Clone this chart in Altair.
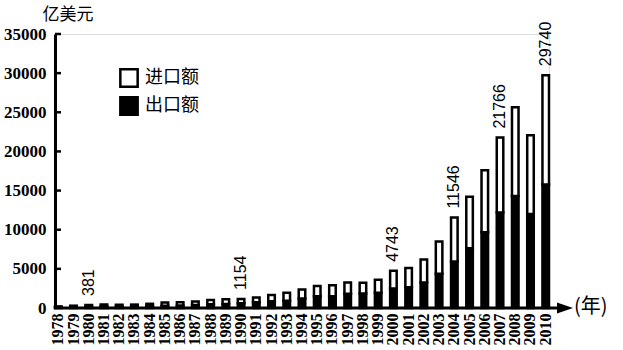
import altair as alt
import pandas as pd

years = ["1978", "1979", "1980", "1981", "1982", "1983", "1984", "1985", "1986", "1987",
         "1988", "1989", "1990", "1991", "1992", "1993", "1994", "1995", "1996", "1997",
         "1998", "1999", "2000", "2001", "2002", "2003", "2004", "2005", "2006", "2007",
         "2008", "2009", "2010"]
exports = [97.5, 136.6, 181.2, 220.1, 223.2, 222.3, 261.4, 273.5, 309.4, 394.4,
           475.2, 525.4, 620.9, 719.1, 849.4, 917.4, 1210.1, 1487.8, 1510.5, 1827.9,
           1837.1, 1949.3, 2492.0, 2661.0, 3256.0, 4382.3, 5933.3, 7619.5, 9689.4, 12204.6,
           14306.9, 12016.1, 15777.5]
imports = [108.9, 156.7, 200.2, 220.2, 192.9, 213.9, 274.1, 422.5, 429.1, 432.2,
           552.7, 591.4, 533.5, 637.9, 805.9, 1039.6, 1156.1, 1320.8, 1388.3, 1423.7,
           1402.4, 1657.0, 2250.9, 2435.5, 2951.7, 4127.6, 5612.3, 6599.5, 7914.6, 9561.2,
           11325.6, 10059.2, 13962.5]
series_names = ["进口额", "出口额"]
label_years = ["1980", "1990", "2000", "2004", "2007", "2010"]
label_texts = ["381", "1154", "4743", "11546", "21766", "29740"]
y_ticks = [0, 5000, 10000, 15000, 20000, 25000, 30000, 35000]

W, H = 494, 274

rows = []
for y, e, i in zip(years, exports, imports):
    rows.append({"year": y, "type": "出口额", "value": e, "ord": 0})
    rows.append({"year": y, "type": "进口额", "value": i, "ord": 1})
df = pd.DataFrame(rows)

totals = {y: e + i for y, e, i in zip(years, exports, imports)}
lab_df = pd.DataFrame({"year": label_years, "text": label_texts,
                       "total": [totals[y] for y in label_years]})

xscale = alt.Scale(domain=years, paddingInner=0.57, paddingOuter=0)
yscale = alt.Scale(domain=[0, 35000], nice=False)

xaxis = alt.Axis(title=None, domain=False, ticks=False, labelAngle=270,
                 labelAlign="right", labelBaseline="middle", labelPadding=5,
                 labelFont="Liberation Serif", labelFontSize=16, labelFontWeight="bold",
                 labelColor="black", labelOverlap=False)
yaxis = alt.Axis(title=None, values=y_ticks, format="d", grid=False, ticks=False,
                 domain=True, domainColor="black", domainWidth=3,
                 labelOverlap=False, labelFlush=False,
                 labelFont="Liberation Serif", labelFontSize=17, labelFontWeight="bold",
                 labelColor="black", labelPadding=9)

bars = alt.Chart(df).mark_bar(stroke="black", strokeWidth=2.5).encode(
    x=alt.X("year:O", scale=xscale, sort=years, axis=xaxis),
    y=alt.Y("value:Q", stack="zero", scale=yscale, axis=yaxis),
    color=alt.Color("type:N", scale=alt.Scale(domain=series_names, range=["white", "black"]),
                    legend=alt.Legend(orient="none", legendX=64, legendY=34, title=None,
                                      symbolType="square", symbolSize=300,
                                      symbolStrokeColor="black", symbolStrokeWidth=2.5,
                                      symbolOpacity=1,
                                      labelFont="Noto Sans CJK SC", labelFontSize=18,
                                      labelColor="black", labelOffset=6, rowPadding=0)),
    order=alt.Order("ord:Q", sort="ascending"),
)

ticks = alt.Chart(pd.DataFrame({"v": y_ticks[1:]})).mark_rule(
    color="black", strokeWidth=2.5).encode(
    y=alt.Y("v:Q", scale=yscale, axis=yaxis), x=alt.value(0), x2=alt.value(6))

labels = alt.Chart(lab_df).mark_text(
    angle=270, align="left", baseline="middle", dx=9,
    font="Liberation Sans", fontSize=16, color="black").encode(
    x=alt.X("year:O", scale=xscale, sort=years, axis=xaxis),
    y=alt.Y("total:Q", scale=yscale, axis=yaxis),
    text="text:N")

one = pd.DataFrame({"a": [0]})
xline = alt.Chart(one).mark_rule(color="black", strokeWidth=3).encode(
    x=alt.value(-1), x2=alt.value(504), y=alt.value(H))
arrow = alt.Chart(one).mark_point(
    shape="M-1,-0.7L1,0L-1,0.7Z", size=256, filled=True, color="black", opacity=1).encode(
    x=alt.value(510), y=alt.value(H))
xtitle = alt.Chart(pd.DataFrame({"t": ["(年)"]})).mark_text(
    align="left", baseline="middle", font="Noto Sans CJK SC", fontSize=20, color="black").encode(
    text="t:N", x=alt.value(519), y=alt.value(H - 1))
ytitle = alt.Chart(pd.DataFrame({"t": ["亿美元"]})).mark_text(
    align="center", baseline="middle", font="Noto Sans CJK SC", fontSize=17, color="black").encode(
    text="t:N", x=alt.value(13), y=alt.value(-19))

chart = alt.layer(bars, ticks, labels, xline, arrow, xtitle, ytitle).properties(
    width=W, height=H,
    autosize=alt.AutoSizeParams(type="none"),
    padding={"left": 55, "top": 34, "right": 74, "bottom": 42},
).configure_view(stroke=None).configure(background="white")

chart.save("out.html", embed_options={"renderer": "svg", "actions": False})
